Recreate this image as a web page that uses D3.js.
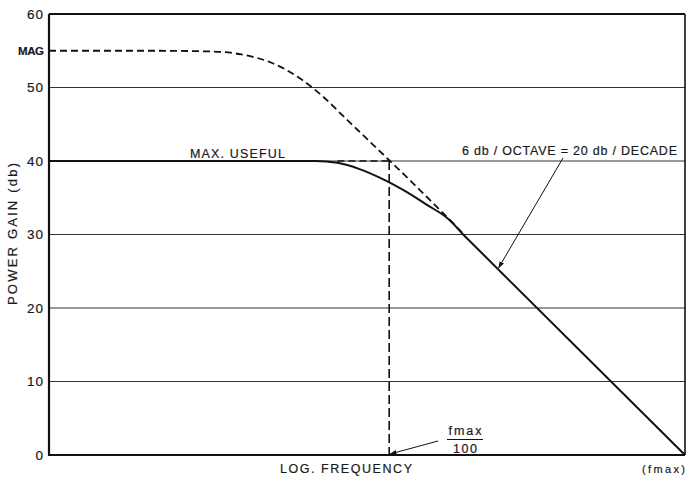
<!DOCTYPE html>
<html>
<head>
<meta charset="utf-8">
<script src="https://cdn.jsdelivr.net/npm/d3@7/dist/d3.min.js"></script>
<style>
  html, body { margin: 0; padding: 0; background: #fff; }
  svg { display: block; }
  text { font-family: "Liberation Sans", Arial, sans-serif; fill: #1a1a1a; stroke: #1a1a1a; stroke-width: 0.2px; }
</style>
</head>
<body>
<svg id="chart" width="688" height="477"></svg>
<script>
// Power gain (db) against log frequency, in decades relative to fmax.
const gainTicks = [0, 10, 20, 30, 40, 50, 60];
const gridLevels = [10, 20, 30, 40, 50];
const magGain = 55;

// Maximum available gain (dashed curve)
const magLogF = [-4.3, -3.6, -3.2, -3.0, -2.8, -2.6, -2.45, -2.3, -2.15, -2.0, -1.85, -1.7, -1.6, -1.5];
const magDb   = [55, 55, 54.9, 54.5, 53.4, 51.2, 48.8, 45.9, 43.0, 40.1, 37.2, 34.2, 32.2, 30.1];

// Maximum useful gain (solid curve)
const usefulLogF = [-4.3, -2.5, -2.35, -2.2, -2.05, -1.9, -1.75, -1.6, -1.5];
const usefulDb   = [40, 40, 39.75, 38.9, 37.6, 36.0, 34.1, 32.1, 30.0];

// 20 db/decade roll-off down to fmax
const slopeLogF = [-1.5, 0];
const slopeDb   = [30, 0];

// Break point at fmax/100
const breakLogF = -2;
const breakDb = 40;
const flatStartLogF = -2.35;
const slopeArrowLogF = -1.26;

const svg = d3.select("#chart");
const x = d3.scaleLinear().domain([-4.3, 0]).range([49, 685]);
const y = d3.scaleLinear().domain([0, 60]).range([455, 14]);

const toPts = (fs, gs) => fs.map((f, i) => [f, gs[i]]);
const line = d3.line().x(d => x(d[0])).y(d => y(d[1]));
const smooth = d3.line().x(d => x(d[0])).y(d => y(d[1])).curve(d3.curveMonotoneX);

// arrowhead
svg.append("defs").append("marker")
  .attr("id", "arrow").attr("viewBox", "0 0 10 10")
  .attr("refX", 9).attr("refY", 5)
  .attr("markerWidth", 7).attr("markerHeight", 7)
  .attr("markerUnits", "userSpaceOnUse")
  .attr("orient", "auto")
  .append("path").attr("d", "M0,1.5 L10,5 L0,8.5 Z").attr("fill", "#111");

// horizontal grid
svg.append("g").selectAll("line").data(gridLevels).join("line")
  .attr("x1", x(-4.3)).attr("x2", x(0))
  .attr("y1", d => y(d)).attr("y2", d => y(d))
  .attr("stroke", "#333").attr("stroke-width", 1.1);

// frame
svg.append("line").attr("x1", x(-4.3)).attr("x2", x(0)).attr("y1", y(60)).attr("y2", y(60))
  .attr("stroke", "#111").attr("stroke-width", 1.8);
svg.append("line").attr("x1", x(0)).attr("x2", x(0)).attr("y1", y(60)).attr("y2", y(0))
  .attr("stroke", "#111").attr("stroke-width", 1.6);
svg.append("line").attr("x1", x(-4.3)).attr("x2", x(-4.3)).attr("y1", y(60)).attr("y2", y(0) + 1)
  .attr("stroke", "#111").attr("stroke-width", 2.2);
svg.append("line").attr("x1", x(-4.3) - 1).attr("x2", x(0)).attr("y1", y(0)).attr("y2", y(0))
  .attr("stroke", "#111").attr("stroke-width", 2.2);

// y axis tick labels
const yAxis = d3.axisLeft(y).tickValues(gainTicks).tickSize(0).tickPadding(4).tickFormat(d3.format("d"));
const gy = svg.append("g").attr("transform", `translate(${x(-4.3) - 1},0)`).call(yAxis);
gy.select(".domain").remove();
gy.selectAll("text")
  .style("font-family", "\"Liberation Sans\", Arial, sans-serif")
  .style("font-size", "13.5px").style("letter-spacing", "1px")
  .attr("fill", "#1a1a1a").attr("stroke", "#1a1a1a").attr("stroke-width", 0.2);

svg.append("text").attr("x", 44).attr("y", y(magGain) + 4.5)
  .attr("text-anchor", "end").style("font-size", "11.5px").style("font-weight", "bold")
  .attr("stroke-width", 0).attr("textLength", 26).text("MAG");

// y axis title
svg.append("text")
  .attr("transform", `translate(17,${(163 + 305) / 2}) rotate(-90)`)
  .attr("text-anchor", "middle").style("font-size", "13px")
  .attr("textLength", 142).attr("lengthAdjust", "spacing")
  .text("POWER GAIN (db)");

// dashed construction lines at fmax/100
const dash = "7,4";
svg.append("path").attr("d", line([[flatStartLogF, breakDb], [breakLogF, breakDb]]))
  .attr("fill", "none").attr("stroke", "#111").attr("stroke-width", 1.6).attr("stroke-dasharray", dash);
svg.append("path").attr("d", line([[breakLogF, breakDb], [breakLogF, 0]]))
  .attr("fill", "none").attr("stroke", "#111").attr("stroke-width", 1.6).attr("stroke-dasharray", "9,4");

// MAG curve
svg.append("path").attr("d", smooth(toPts(magLogF, magDb)))
  .attr("fill", "none").attr("stroke", "#111").attr("stroke-width", 1.8).attr("stroke-dasharray", dash);

// maximum useful gain curve and roll-off
svg.append("path").attr("d", smooth(toPts(usefulLogF, usefulDb)))
  .attr("fill", "none").attr("stroke", "#111").attr("stroke-width", 2);
svg.append("path").attr("d", line(toPts(slopeLogF, slopeDb)))
  .attr("fill", "none").attr("stroke", "#111").attr("stroke-width", 2);

// labels
svg.append("text").attr("x", 190).attr("y", 158).style("font-size", "12.5px")
  .attr("textLength", 95).attr("lengthAdjust", "spacing").text("MAX. USEFUL");

svg.append("text").attr("x", 462).attr("y", 155).style("font-size", "12.5px")
  .attr("textLength", 215).attr("lengthAdjust", "spacing").text("6 db / OCTAVE = 20 db / DECADE");

// slope annotation arrow
const slopeTipDb = -20 * slopeArrowLogF;
svg.append("line").attr("x1", 563).attr("y1", 158)
  .attr("x2", x(slopeArrowLogF)).attr("y2", y(slopeTipDb) - 2)
  .attr("stroke", "#111").attr("stroke-width", 1).attr("marker-end", "url(#arrow)");

// fmax/100 fraction
svg.append("text").attr("x", 465).attr("y", 435).attr("text-anchor", "middle")
  .style("font-size", "12.5px").attr("textLength", 33).attr("lengthAdjust", "spacing").text("fmax");
svg.append("line").attr("x1", 447).attr("x2", 483).attr("y1", 439.5).attr("y2", 439.5)
  .attr("stroke", "#111").attr("stroke-width", 1.2);
svg.append("text").attr("x", 465).attr("y", 452.5).attr("text-anchor", "middle")
  .style("font-size", "12.5px").attr("textLength", 24).attr("lengthAdjust", "spacing").text("100");
svg.append("line").attr("x1", 438).attr("y1", 441)
  .attr("x2", x(breakLogF) + 1).attr("y2", y(0) - 1)
  .attr("stroke", "#111").attr("stroke-width", 1).attr("marker-end", "url(#arrow)");

// x axis captions
svg.append("text").attr("x", 280).attr("y", 473).style("font-size", "12.5px")
  .attr("textLength", 132).attr("lengthAdjust", "spacing").text("LOG. FREQUENCY");
svg.append("text").attr("x", 642).attr("y", 473).style("font-size", "11px")
  .attr("textLength", 43).attr("lengthAdjust", "spacing").text("(fmax)");
</script>
</body>
</html>
